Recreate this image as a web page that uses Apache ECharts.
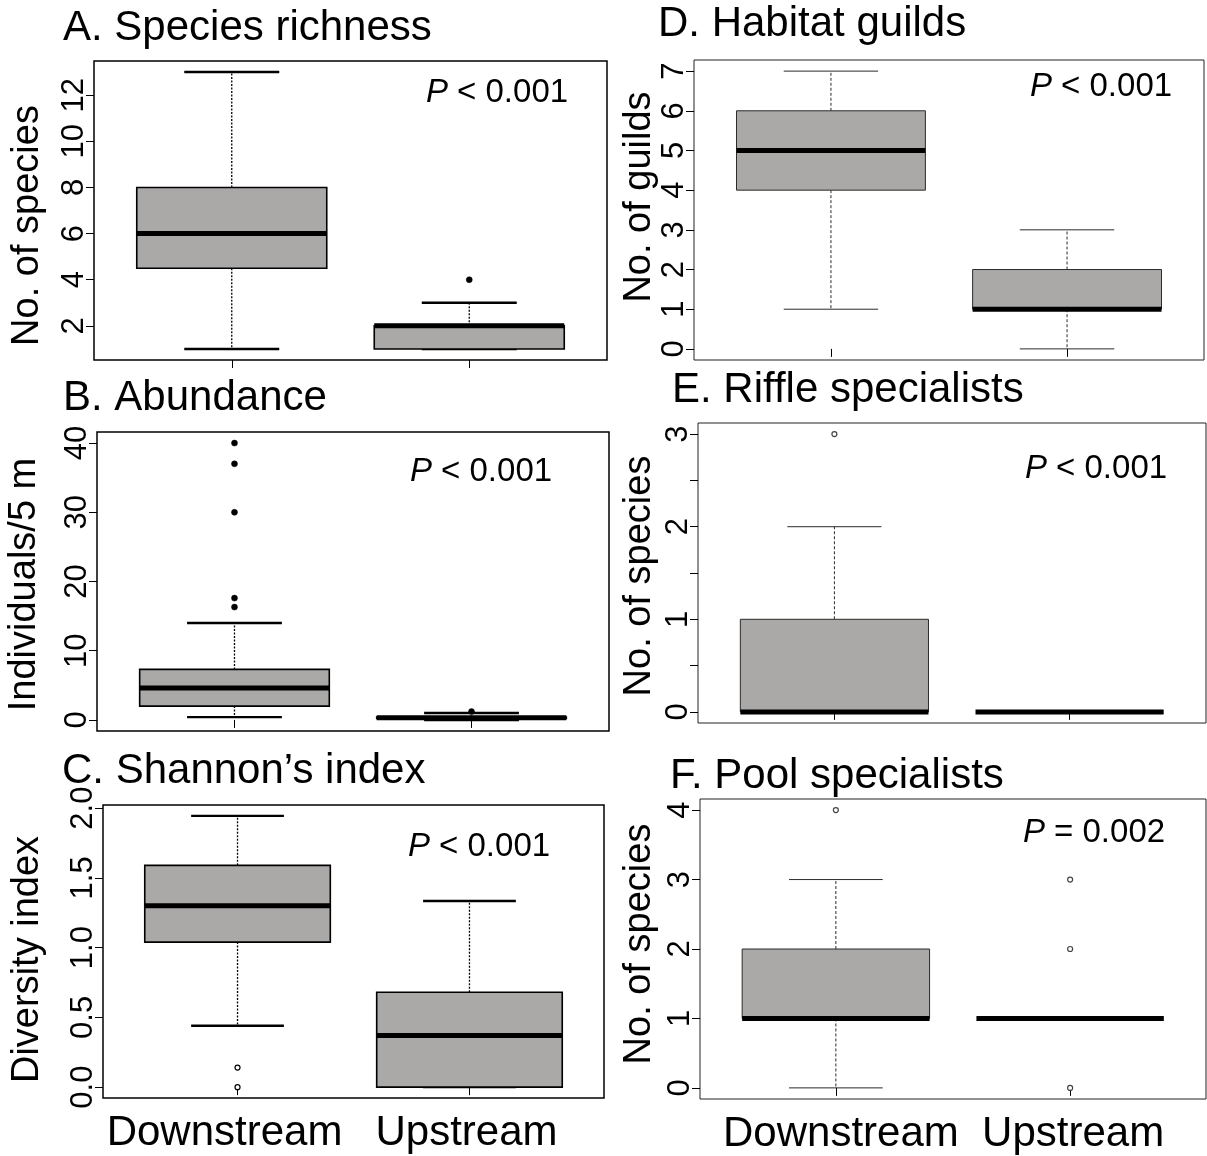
<!DOCTYPE html>
<html>
<head>
<meta charset="utf-8">
<script src="https://cdn.jsdelivr.net/npm/echarts@6/dist/echarts.min.js"></script>
<style>
html,body{margin:0;padding:0;background:#fff;}
#chart{width:1207px;height:1156px;}
</style>
</head>
<body>
<div id="chart"></div>
<script>
// ---------------- DATA ----------------
const categories = ['Downstream', 'Upstream'];
// box stats per group: [lower whisker, Q1, median, Q3, upper whisker]
const richnessStats = [[1, 4.5, 6, 8, 13], [1, 1, 2, 2, 3]];
const richnessOutliers = [[], [4]];
const richnessTicks = [2, 4, 6, 8, 10, 12];

const abundanceStats = [[0.4, 2, 4.6, 7.3, 14], [0, 0.2, 0.3, 0.4, 1]];
const abundanceOutliers = [[16.3, 17.6, 30, 37, 40], [1.2]];
const abundanceTicks = [0, 10, 20, 30, 40];

const shannonStats = [[0.44, 1.04, 1.30, 1.59, 1.945], [0, 0, 0.37, 0.68, 1.335]];
const shannonOutliers = [[0, 0.14], []];
const shannonTicks = [0, 0.5, 1, 1.5, 2];

const guildStats = [[1, 4, 5, 6, 7], [0, 1, 1, 2, 3]];
const guildOutliers = [[], []];
const guildTicks = [0, 1, 2, 3, 4, 5, 6, 7];

const riffleStats = [[0, 0, 0, 1, 2], [0, 0, 0, 0, 0]];
const riffleOutliers = [[3], []];
const riffleTicks = [0, 0.5, 1, 1.5, 2, 2.5, 3];
const riffleLabels = [0, 1, 2, 3];

const poolStats = [[0, 1, 1, 2, 3], [1, 1, 1, 1, 1]];
const poolOutliers = [[4], [0, 2, 3]];
const poolTicks = [0, 1, 2, 3, 4];

const pValues = ['< 0.001', '< 0.001', '< 0.001', '< 0.001', '< 0.001', '= 0.002'];
const panelTitles = ['A. Species richness', 'B. Abundance', 'C. Shannon\u2019s index',
                     'D. Habitat guilds', 'E. Riffle specialists', 'F. Pool specialists'];
const yNames = ['No. of species', 'Individuals/5 m', 'Diversity index',
                'No. of guilds', 'No. of species', 'No. of species'];

// ---------------- LAYOUT / STYLE ----------------
const FONT = '"Liberation Sans", Arial, sans-serif';
const panels = [
  {stats: richnessStats, out: richnessOutliers, ticks: richnessTicks, labels: richnessTicks, fmt: v => String(v),
   grid: {left: 94, top: 61, width: 513, height: 299}, title: [63, 28], p: [497, 93], gap: 47, namePad: [0, 30, 0, 0],
   bold: true, showX: false, outFill: true},
  {stats: abundanceStats, out: abundanceOutliers, ticks: abundanceTicks, labels: abundanceTicks, fmt: v => String(v),
   grid: {left: 97, top: 432, width: 512, height: 299}, title: [63, 398], p: [481, 472], gap: 53, namePad: [0, 6, 0, 0],
   bold: true, showX: false, outFill: true},
  {stats: shannonStats, out: shannonOutliers, ticks: shannonTicks, labels: shannonTicks, fmt: v => v.toFixed(1),
   grid: {left: 103, top: 805, width: 501, height: 293}, title: [62, 771], p: [479, 847], gap: 56, namePad: [0, 16, 0, 0],
   bold: true, showX: true, outFill: false, xPad: [[0, 26, 0, 0], [0, 6, 0, 0]]},
  {stats: guildStats, out: guildOutliers, ticks: guildTicks, labels: guildTicks, fmt: v => String(v),
   grid: {left: 694, top: 60, width: 510, height: 300}, title: [658, 24], p: [1101, 87], gap: 33, namePad: [0, 0, 0, 26],
   bold: false, showX: false, outFill: false},
  {stats: riffleStats, out: riffleOutliers, ticks: riffleTicks, labels: riffleLabels, fmt: v => String(v),
   grid: {left: 698, top: 423, width: 508, height: 300}, title: [672, 390], p: [1096, 469], gap: 39, namePad: [0, 6, 0, 0],
   bold: false, showX: false, outFill: false},
  {stats: poolStats, out: poolOutliers, ticks: poolTicks, labels: poolTicks, fmt: v => String(v),
   grid: {left: 700, top: 799, width: 506, height: 300}, title: [670, 776], p: [1094, 833], gap: 41, namePad: [0, 0, 0, 10],
   bold: false, showX: true, outFill: false, xPad: [[0, 0, 0, 10], [0, 0, 0, 6]]}
];

function rangeOf(stats, out) {
  const vals = [];
  stats.forEach(s => s.forEach(v => vals.push(v)));
  out.forEach(o => o.forEach(v => vals.push(v)));
  const lo = Math.min.apply(null, vals), hi = Math.max.apply(null, vals);
  const pad = (hi - lo) * 0.04;
  return [lo - pad, hi + pad];
}

function makeRender(bold) {
  const lineCol = bold ? '#000' : '#2b2b2b';
  const wLine = bold ? 1.6 : 1;
  const stapleW = bold ? 2.4 : 1;
  return function (params, api) {
    const x = api.value(0);
    const mn = api.value(1), q1 = api.value(2), md = api.value(3), q3 = api.value(4), mx = api.value(5);
    const hw = api.size([0.4, 0])[0];
    const cx = api.coord([x, 0])[0];
    const Y = v => api.coord([x, v])[1];
    const children = [];
    if (mx > q3) children.push({type: 'line', shape: {x1: cx, y1: Y(q3), x2: cx, y2: Y(mx)},
      style: {stroke: lineCol, lineWidth: bold ? 1.3 : 1, lineDash: bold ? [2, 1.5] : [3, 2]}});
    if (mn < q1) children.push({type: 'line', shape: {x1: cx, y1: Y(q1), x2: cx, y2: Y(mn)},
      style: {stroke: lineCol, lineWidth: bold ? 1.3 : 1, lineDash: bold ? [2, 1.5] : [3, 2]}});
    children.push({type: 'line', shape: {x1: cx - hw / 2, y1: Y(mx), x2: cx + hw / 2, y2: Y(mx)},
      style: {stroke: lineCol, lineWidth: stapleW}});
    children.push({type: 'line', shape: {x1: cx - hw / 2, y1: Y(mn), x2: cx + hw / 2, y2: Y(mn)},
      style: {stroke: lineCol, lineWidth: stapleW}});
    if (q3 > q1) children.push({type: 'rect', shape: {x: cx - hw, y: Y(q3), width: 2 * hw, height: Y(q1) - Y(q3)},
      style: {fill: '#aba8a8', stroke: lineCol, lineWidth: wLine}});
    children.push({type: 'line', shape: {x1: cx - hw, y1: Y(md), x2: cx + hw, y2: Y(md)},
      style: {stroke: '#000', lineWidth: 5}});
    return {type: 'group', children: children};
  };
}

const option = {
  animation: false,
  backgroundColor: '#fff',
  grid: [], xAxis: [], yAxis: [], series: [], graphic: []
};

panels.forEach((p, i) => {
  option.grid.push(Object.assign({show: true, borderColor: p.bold ? '#000' : '#222', borderWidth: p.bold ? 1.5 : 1,
    backgroundColor: 'transparent', containLabel: false}, p.grid));
  const xRich = {};
  (p.xPad || [[0, 0, 0, 0], [0, 0, 0, 0]]).forEach((pad, k) => {
    xRich['c' + k] = {padding: pad, fontSize: 42, fontFamily: FONT, color: '#000'};
  });
  option.xAxis.push({
    type: 'value', gridIndex: i, min: 0.42, max: 2.58,
    axisLine: {show: false}, splitLine: {show: false},
    axisTick: {show: true, inside: false, length: 8, customValues: [1, 2], lineStyle: {color: '#000', width: 1}},
    axisLabel: {show: p.showX, customValues: [1, 2],
      formatter: v => { const k = Math.round(v) - 1; return categories[k] ? '{c' + k + '|' + categories[k] + '}' : ''; },
      rich: xRich, margin: 14, color: '#000', fontSize: 42, fontFamily: FONT}
  });
  const r = rangeOf(p.stats, p.out);
  option.yAxis.push({
    type: 'value', gridIndex: i, min: r[0], max: r[1],
    axisLine: {show: false}, splitLine: {show: false},
    axisTick: {show: true, inside: false, length: 8, customValues: p.ticks, lineStyle: {color: '#000', width: 1}},
    axisLabel: {show: true, customValues: p.labels, formatter: p.fmt, rotate: 90, margin: 4,
      color: '#000', fontSize: 31, fontFamily: FONT},
    name: yNames[i], nameLocation: 'middle', nameRotate: 90, nameGap: p.gap,
    nameTextStyle: {color: '#000', fontSize: 38, fontFamily: FONT, padding: p.namePad}
  });
  option.series.push({
    type: 'custom', xAxisIndex: i, yAxisIndex: i,
    renderItem: makeRender(p.bold),
    encode: {x: 0, y: [1, 2, 3, 4, 5]},
    data: p.stats.map((s, k) => [k + 1].concat(s)),
    z: 2
  });
  const outData = [];
  p.out.forEach((arr, k) => arr.forEach(v => outData.push([k + 1, v])));
  option.series.push({
    type: 'scatter', xAxisIndex: i, yAxisIndex: i, data: outData,
    symbol: 'circle', symbolSize: p.outFill ? 6 : 5,
    itemStyle: p.outFill ? {color: '#000', borderColor: '#000', borderWidth: 0.5, opacity: 1}
                         : {color: '#fff', borderColor: p.bold ? '#000' : '#444', borderWidth: 1.2, opacity: 1},
    z: 3
  });
  option.graphic.push({
    type: 'text', x: p.title[0], y: p.title[1],
    style: {text: panelTitles[i], fill: '#000', fontSize: 42, fontFamily: FONT, align: 'left', verticalAlign: 'middle'}
  });
  option.graphic.push({
    type: 'text', x: p.p[0], y: p.p[1],
    style: {text: '{i|P} ' + pValues[i], fill: '#000', fontSize: 33, fontFamily: FONT, align: 'center', verticalAlign: 'middle',
      rich: {i: {fontStyle: 'italic', fontSize: 33, fontFamily: FONT, fill: '#000'}}}
  });
});

const chart = echarts.init(document.getElementById('chart'), null, {renderer: 'canvas'});
chart.setOption(option);
</script>
</body>
</html>
